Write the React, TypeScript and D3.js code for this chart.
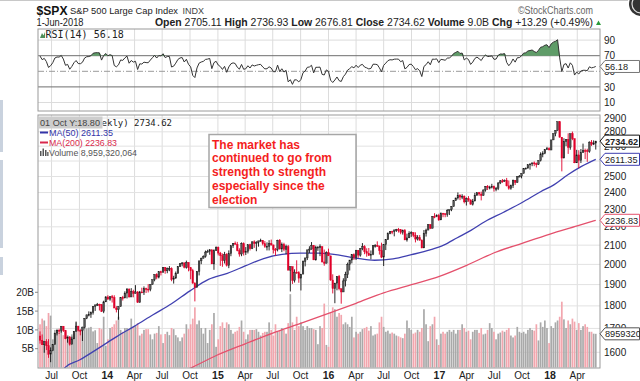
import React from "react";
import * as d3 from "d3";

// ---------- DATA ----------
const startDate = "2013-05-24"; // first weekly bar (week ending)
const warmupCloses = [1440.67,1460.93,1428.59,1433.19,1411.94,1414.20,1379.85,1359.88,1409.15,1416.18,1418.07,1413.58,1430.15,1402.43,1466.47,1472.05,1485.98,1502.96,1513.17,1517.93,1519.79,1515.60,1518.20,1551.18,1560.70,1556.89,1569.19,1553.28,1588.85,1555.25,1582.24,1614.42,1633.70,1667.47];

const closes = [
1649.60,1630.74,1643.38,1626.73,1592.43,1606.28,1631.89,1680.19,1692.09,1691.65,1709.67,1691.42,1655.83,1663.50,1632.97,1655.17,1687.99,1709.91,1691.75,1690.50,1703.20,1744.50,1759.77,1761.64,1770.61,1798.18,1804.76,1805.81,1805.09,1775.32,1818.32,1841.40,
1831.37,1842.37,1838.70,1790.29,1782.59,1797.02,1838.63,1836.25,1859.45,1878.04,1841.13,1866.52,1857.62,1865.09,1815.69,1864.85,1863.40,1881.14,1878.48,1877.86,1900.53,1923.57,1949.44,1936.16,1962.87,1960.96,1985.44,1967.57,1978.22,1978.34,1925.15,1931.59,1955.06,1988.40,2003.37,2007.71,1985.54,2010.40,1982.85,1967.90,1906.13,1886.76,1964.58,2018.05,2031.92,2039.82,2063.50,2067.56,2075.37,2002.33,2070.65,2088.77,
2058.20,2044.81,2019.42,2051.82,1994.99,2055.47,2096.99,2110.30,2104.50,2071.26,2053.40,2108.10,2061.02,2066.96,2102.06,2081.18,2117.69,2108.29,2116.10,2122.73,2126.06,2107.39,2092.83,2094.11,2109.99,2101.49,2076.78,2076.62,2126.64,2079.65,2103.84,2077.57,2091.54,1970.89,1988.87,1921.22,1961.05,1958.03,1931.34,1951.36,2014.89,2033.11,2075.15,2079.36,2099.20,2023.04,2089.17,2090.11,2091.69,2012.37,2005.55,2060.99,2043.94,
1922.03,1880.33,1906.90,1940.24,1880.05,1864.78,1917.78,1948.05,1999.99,2022.19,2049.58,2035.94,2072.78,2047.60,2080.73,2091.58,2065.30,2057.14,2046.61,2052.32,2099.06,2099.13,2096.07,2071.22,2037.41,2102.95,2129.90,2161.74,2175.03,2173.60,2182.87,2184.05,2183.87,2169.04,2179.98,2127.81,2139.16,2164.69,2168.27,2153.74,2132.98,2141.16,2126.41,2085.18,2164.45,2181.90,2213.35,2191.95,2259.53,2258.07,2263.79,2238.83,
2276.98,2274.64,2271.31,2294.69,2297.42,2316.10,2351.16,2367.34,2383.12,2372.60,2378.25,2343.98,2362.72,2355.54,2328.95,2348.69,2384.20,2399.29,2390.90,2381.73,2415.82,2439.07,2431.77,2433.15,2438.30,2423.41,2425.18,2459.27,2472.54,2472.10,2476.83,2441.32,2425.55,2443.05,2476.55,2461.43,2500.23,2502.22,2519.36,2549.33,2553.17,2575.21,2581.07,2587.84,2582.30,2578.85,2602.42,2642.22,2651.50,2675.81,2683.34,2673.61,
2743.15,2786.24,2810.30,2872.87,2762.13,2619.55,2732.22,2747.30,2691.25,2786.57,2752.01,2588.26,2640.87,2604.47,2656.30,2670.14,2669.91,2663.42,2727.72,2712.97,2721.33,2734.62];

const highs = [
1687.2,1674.2,1644.4,1654.2,1654.2,1620.1,1632.1,1680.2,1693.1,1698.8,1709.7,1709.2,1693.4,1664.8,1666.7,1664.8,1689.0,1729.9,1711.0,1696.6,1703.4,1745.3,1759.8,1775.2,1774.5,1798.2,1804.8,1813.6,1810.0,1808.4,1823.8,1844.9,
1849.4,1843.2,1850.8,1849.3,1798.8,1798.0,1838.6,1846.5,1867.9,1883.6,1882.4,1883.0,1875.2,1897.3,1868.4,1869.6,1884.9,1891.3,1885.0,1902.2,1901.3,1924.0,1949.4,1955.6,1963.9,1968.2,1985.6,1985.6,1983.9,1991.4,1984.9,1942.9,1964.0,1991.0,2005.0,2011.2,2009.1,2019.3,2009.1,1985.2,1977.4,1912.0,1965.3,2018.2,2034.3,2046.2,2071.5,2075.8,2079.5,2077.3,2077.9,2093.6,
2093.0,2064.4,2056.1,2064.6,2057.6,2072.4,2097.0,2110.6,2119.6,2117.5,2083.5,2114.9,2114.9,2089.8,2102.6,2107.6,2120.9,2125.9,2120.9,2123.9,2134.7,2126.2,2121.9,2115.0,2126.7,2130.0,2102.0,2085.0,2129.0,2132.8,2114.2,2112.7,2102.7,2101.1,1989.0,1987.0,1975.0,2020.9,1965.9,1951.4,2020.1,2033.5,2075.3,2094.3,2116.5,2100.0,2097.1,2094.1,2104.3,2093.8,2076.7,2067.4,2081.6,
2038.2,1950.3,1908.9,1940.2,1947.2,1881.0,1930.7,1962.9,2009.1,2022.4,2052.4,2056.6,2075.1,2074.0,2083.9,2111.1,2099.9,2083.4,2084.9,2071.9,2099.1,2105.3,2120.6,2096.1,2113.3,2104.0,2131.7,2169.1,2175.6,2178.3,2183.5,2188.5,2193.8,2187.9,2184.9,2187.9,2162.3,2175.3,2175.3,2169.6,2169.6,2153.8,2154.8,2131.5,2182.3,2189.9,2213.4,2214.1,2259.8,2277.5,2271.0,2273.8,
2282.1,2279.3,2272.1,2300.9,2298.3,2319.2,2351.3,2368.3,2400.9,2390.0,2390.0,2382.4,2370.4,2378.4,2358.2,2361.4,2398.2,2399.3,2403.9,2405.8,2418.7,2440.2,2446.2,2441.8,2453.8,2442.9,2434.4,2463.5,2477.6,2484.0,2480.4,2490.9,2474.9,2448.9,2480.4,2477.1,2500.2,2508.9,2519.4,2552.5,2557.6,2575.4,2582.2,2588.4,2597.0,2590.1,2604.2,2657.7,2665.2,2679.6,2694.9,2692.1,
2743.5,2787.9,2810.3,2872.9,2870.6,2763.4,2754.4,2747.8,2789.2,2786.6,2801.9,2752.0,2674.8,2672.1,2680.3,2717.5,2682.9,2682.3,2732.9,2742.1,2739.8,2736.9];

const lows = [
1635.5,1630.7,1598.2,1609.1,1577.7,1560.3,1604.6,1631.9,1670.0,1676.0,1681.9,1684.9,1654.2,1639.4,1627.5,1633.4,1655.2,1687.1,1687.1,1670.4,1646.5,1700.0,1740.5,1752.7,1746.2,1760.6,1777.2,1800.0,1779.1,1772.3,1767.0,1818.3,
1827.7,1823.7,1815.3,1790.3,1770.5,1737.9,1798.8,1824.6,1836.3,1834.4,1839.1,1841.1,1839.6,1857.6,1814.4,1815.7,1859.7,1850.6,1859.8,1862.4,1868.1,1900.5,1915.9,1925.8,1930.0,1944.7,1958.2,1952.9,1955.6,1965.8,1916.3,1904.8,1928.3,1953.0,1987.0,1990.0,1980.0,1978.6,1965.0,1926.0,1906.1,1820.7,1886.8,1944.7,2001.0,2030.0,2034.5,2062.0,2049.6,2002.3,1972.6,2069.0,
2046.0,1992.4,1988.1,2004.5,1989.2,1980.9,2041.9,2085.4,2103.0,2067.3,2039.7,2042.0,2045.5,2048.4,2056.3,2072.0,2079.1,2085.7,2067.9,2092.0,2119.0,2099.2,2085.7,2072.1,2072.0,2097.0,2056.2,2044.0,2067.0,2077.0,2063.5,2067.9,2052.1,1970.9,1867.0,1903.1,1910.0,1953.0,1908.8,1871.9,1951.4,1990.0,2022.0,2059.0,2076.0,2022.0,2019.4,2070.0,2042.4,2010.0,1993.3,2005.9,2043.6,
1918.5,1857.8,1812.3,1872.7,1872.7,1810.1,1864.8,1891.0,1931.8,1969.3,2005.1,2022.5,2022.5,2033.8,2039.7,2073.0,2052.3,2039.5,2043.1,2025.9,2047.3,2087.0,2091.1,2050.4,2032.1,1991.7,2074.0,2128.0,2159.0,2159.1,2147.6,2172.0,2168.5,2159.1,2157.1,2127.8,2119.1,2139.1,2144.6,2142.6,2114.7,2124.9,2124.9,2083.8,2085.2,2146.3,2181.9,2187.4,2192.0,2248.6,2254.8,2233.6,
2245.1,2254.3,2254.3,2257.0,2267.2,2289.1,2319.2,2354.0,2358.0,2354.3,2360.0,2335.0,2322.3,2344.7,2328.9,2322.3,2348.7,2379.8,2380.0,2352.7,2381.7,2405.7,2415.7,2419.4,2425.4,2405.7,2407.7,2415.0,2452.0,2459.9,2466.5,2437.8,2417.4,2417.3,2428.2,2446.6,2462.0,2496.7,2488.0,2520.4,2547.9,2552.0,2544.0,2566.2,2566.3,2557.5,2575.0,2597.0,2624.8,2645.6,2676.0,2673.6,
2682.4,2742.0,2768.6,2808.1,2759.1,2532.7,2622.5,2699.8,2647.3,2675.8,2741.4,2585.9,2593.1,2553.8,2586.5,2660.2,2612.7,2594.6,2655.2,2701.9,2707.4,2676.8];

const volumesB = [
11.5,13.0,12.5,11.0,14.5,13.8,7.5,10.0,10.3,9.2,9.8,8.6,9.5,8.6,8.2,8.8,9.0,12.0,9.8,10.0,11.0,10.5,10.4,10.6,10.8,9.6,9.9,6.5,10.5,10.2,13.5,5.8,
7.5,10.5,10.8,11.5,12.5,13.5,10.0,9.5,10.5,10.5,10.2,13.0,10.8,11.0,11.8,8.5,9.0,10.0,10.2,10.2,8.8,7.5,9.0,9.2,11.0,8.8,6.5,8.9,9.5,8.6,10.5,10.2,8.6,8.0,7.0,8.0,9.0,11.5,10.2,11.5,13.0,16.0,11.5,12.5,10.5,9.0,10.5,6.5,10.0,11.5,14.5,5.5,
7.5,11.0,12.0,10.5,12.0,11.5,10.0,9.0,9.5,9.8,10.8,12.5,9.5,7.5,8.8,10.0,10.0,10.0,10.2,9.5,8.5,9.2,9.5,9.5,12.0,10.0,8.5,11.5,9.5,10.0,10.5,10.0,9.0,11.8,19.5,12.0,10.0,13.5,11.0,12.0,11.0,10.0,11.0,10.5,10.5,10.2,10.0,6.2,11.0,10.5,17.0,6.0,5.5,
14.5,16.0,15.5,13.5,14.5,14.0,11.5,12.0,11.5,10.8,13.5,8.0,9.5,9.0,9.5,10.2,10.5,10.8,9.8,11.0,8.5,8.8,9.0,12.0,13.5,10.8,9.5,9.8,9.0,9.3,9.0,8.5,8.3,8.0,7.8,9.0,12.5,10.5,10.0,9.0,9.3,10.0,9.5,10.5,15.5,11.5,7.0,11.0,11.5,13.5,7.5,6.0,
9.0,9.5,9.0,9.5,10.0,9.5,10.0,9.0,10.0,10.0,11.5,10.5,9.5,9.8,7.5,9.5,10.0,10.0,9.2,10.5,8.8,9.0,10.0,11.8,10.5,9.5,7.5,9.0,9.3,9.8,9.5,10.0,10.5,8.5,8.0,8.5,10.8,9.5,9.2,9.5,9.0,10.0,10.5,10.0,9.8,11.5,7.2,12.0,10.8,12.5,10.5,6.5,
11.0,10.5,12.0,12.5,13.5,17.5,12.8,10.5,12.5,11.5,13.0,12.2,10.0,11.8,10.0,11.0,11.5,10.8,9.5,9.5,9.0,8.96];

const ma50Dates = ["2013-08-01","2013-08-16","2013-10-01","2013-12-01","2014-02-01","2014-04-01","2014-06-01","2014-08-01","2014-10-01","2014-12-01","2015-02-01","2015-04-01","2015-06-01","2015-08-01","2015-10-01","2015-12-01","2016-02-01","2016-04-01","2016-06-01","2016-08-01","2016-10-01","2016-12-01","2017-01-15","2017-03-01","2017-04-15","2017-06-01","2017-08-01","2017-10-01","2017-12-01","2018-01-15","2018-03-01","2018-04-15","2018-06-01"];
const ma50Values = [1520,1541,1569,1615,1665,1710,1760,1810,1870,1925,1955,1992,2030,2052,2058,2058,2049,2032,2021,2028,2050,2075,2100,2140,2180,2230,2283,2340,2405,2449,2511,2565,2611.35];
const ma200Dates = ["2014-09-01","2014-10-10","2015-01-01","2015-04-01","2015-07-01","2015-10-01","2016-01-01","2016-04-01","2016-07-01","2016-10-01","2017-01-01","2017-04-01","2017-07-01","2017-10-01","2018-01-01","2018-04-01","2018-06-01"];
const ma200Values = [1520,1541,1590,1635,1680,1722,1766,1812,1861,1900,1940,1995,2060,2110,2160,2205,2236.83];

const xTickDates = ["2013-07-01","2013-10-01","2014-01-01","2014-04-01","2014-07-01","2014-10-01","2015-01-01","2015-04-01","2015-07-01","2015-10-01","2016-01-01","2016-04-01","2016-07-01","2016-10-01","2017-01-01","2017-04-01","2017-07-01","2017-10-01","2018-01-01","2018-04-01"];
const xTickLabels = ["Jul","Oct","14","Apr","Jul","Oct","15","Apr","Jul","Oct","16","Apr","Jul","Oct","17","Apr","Jul","Oct","18","Apr"];
const priceTicks = [1600,1700,1800,1900,2000,2100,2200,2300,2400,2500,2600,2700,2800,2900];
const volTicks = [5,10,15,20];
const volTickLabels = ["5B","10B","15B","20B"];
const rsiTicks = [10,30,50,70,90];
const annotationLines = ["The market has","continued to go from","strength to strength","especially since the","election"];

const lastClose = 2734.62, lastMa50 = 2611.35, lastMa200 = 2236.83, lastRsi = 56.18, lastVolume = 8.959320064;

// ---------- LAYOUT ----------
const W = 640, H = 381;
const L = 38, R = 600;
const rsiTop = 29, rsiBot = 111;
const pTop = 115, pBot = 368;
const SANS = "'Liberation Sans', Arial, sans-serif";
const MONO = "'DejaVu Sans Mono', monospace";

const parse = d3.utcParse("%Y-%m-%d");

function wilderRsi(all: number[], period = 14) {
  const out: number[] = new Array(all.length).fill(NaN);
  let g = 0, l = 0;
  for (let i = 1; i <= period; i++) { const d = all[i] - all[i - 1]; if (d > 0) g += d; else l -= d; }
  g /= period; l /= period;
  out[period] = 100 - 100 / (1 + g / l);
  for (let i = period + 1; i < all.length; i++) {
    const d = all[i] - all[i - 1];
    g = (g * (period - 1) + Math.max(d, 0)) / period;
    l = (l * (period - 1) + Math.max(-d, 0)) / period;
    out[i] = 100 - 100 / (1 + g / l);
  }
  return out;
}

function ValueBox({ y, text, stroke, bold }: { y: number; text: string; stroke: string; bold?: boolean }) {
  const h = 6;
  return (
    <g>
      <path d={`M${R},${y} L${R + 5},${y - h} L${W - 0.5},${y - h} L${W - 0.5},${y + h} L${R + 5},${y + h} Z`} fill="#fff" stroke={stroke} strokeWidth={1} />
      <text x={R + 5} y={y + 3.4} fontFamily={SANS} fontSize={9.2} fontWeight={bold ? "bold" : "normal"} fill="#222">{text}</text>
    </g>
  );
}

export default function App() {
  const n = Math.min(closes.length, highs.length, lows.length, volumesB.length);
  const start = parse(startDate)!;
  const dates = d3.range(n).map((i) => d3.utcDay.offset(start, 7 * i));
  const x = d3.scaleUtc().domain([parse("2014-01-01")!, parse("2018-01-01")!]).range([107.3, 550]);
  const yP = d3.scaleLog().domain([1600, 2900]).range([352.3, 118.0]);
  const yV = d3.scaleLinear().domain([0, 20]).range([367.5, 292.3]);
  const yR = d3.scaleLinear().domain([10, 90]).range([102.5, 40.1]);

  const rsiAll = wilderRsi(warmupCloses.concat(closes.slice(0, n)));
  const rsi = rsiAll.slice(warmupCloses.length);

  const rsiLine = d3.line<number>().x((_, i) => x(dates[i])).y((v) => yR(v));
  const rsiArea = d3.area<number>().x((_, i) => x(dates[i])).y0(yR(70)).y1((v) => yR(Math.max(v, 70)));

  const maLine = d3.line<[Date, number]>().x((d) => x(d[0])).y((d) => yP(d[1])).curve(d3.curveMonotoneX);
  const ma50 = ma50Dates.map((d, i) => [parse(d)!, ma50Values[i]] as [Date, number]);
  const ma200 = ma200Dates.map((d, i) => [parse(d)!, ma200Values[i]] as [Date, number]);

  const bw = 1.6;

  return (
    <svg width={W} height={H} style={{ position: "absolute", left: 0, top: 0, background: "#fff" }}>
      <defs>
        <clipPath id="pclip"><rect x={L} y={pTop} width={R - L} height={pBot - pTop} /></clipPath>
        <clipPath id="rclip"><rect x={L} y={rsiTop} width={R - L} height={rsiBot - rsiTop} /></clipPath>
        <clipPath id="legclip"><rect x={L + 64.5} y={pTop} width={120} height={14} /></clipPath>
      </defs>
      <rect x={0} y={0} width={W} height={H} fill="#fff" />
      {/* frame artifacts */}
      <line x1={0} x2={628} y1={0.5} y2={0.5} stroke="#c8c8c8" />
      <rect x={0} y={100} width={3} height={52} fill="#c9d2de" />
      <rect x={0} y={160} width={3} height={88} fill="#c9d2de" />
      <rect x={0} y={257} width={3} height={18} fill="#c9d2de" />
      <circle cx={641} cy={4} r={12} fill="#333" />
      <circle cx={641} cy={4} r={9} fill="none" stroke="#ddd" strokeWidth={1.2} />

      {/* header */}
      <text x={36.5} y={15} fontFamily={SANS} fontSize={13.5} fontWeight="bold" fill="#111" textLength={31} lengthAdjust="spacingAndGlyphs">$SPX</text>
      <text x={70} y={14} fontFamily={SANS} fontSize={9.5} fill="#222" textLength={108} lengthAdjust="spacingAndGlyphs">S&amp;P 500 Large Cap Index</text>
      <text x={182.5} y={14} fontFamily={SANS} fontSize={9} fill="#444">INDX</text>
      <text x={518} y={14} fontFamily={SANS} fontSize={10} fill="#666" textLength={75} lengthAdjust="spacingAndGlyphs">©StockCharts.com</text>
      <text x={36.5} y={26} fontFamily={SANS} fontSize={10} fill="#222" textLength={47} lengthAdjust="spacingAndGlyphs">1-Jun-2018</text>
      <text x={155} y={26} fontFamily={SANS} fontSize={10.3} fill="#222" textLength={438} lengthAdjust="spacingAndGlyphs">
        <tspan fontWeight="bold">Open</tspan> 2705.11 <tspan fontWeight="bold">High</tspan> 2736.93 <tspan fontWeight="bold">Low</tspan> 2676.81 <tspan fontWeight="bold">Close</tspan> 2734.62 <tspan fontWeight="bold">Volume</tspan> 9.0B <tspan fontWeight="bold">Chg</tspan> +13.29 (+0.49%)
      </text>
      <path d="M596,25 L598.5,20.5 L601,25 Z" fill="#2a9a3a" />

      {/* RSI panel */}
      <rect x={L} y={rsiTop} width={R - L} height={rsiBot - rsiTop} fill="#fff" />
      {xTickDates.map((d, i) => (
        <line key={"rv" + i} x1={x(parse(d)!)} x2={x(parse(d)!)} y1={rsiTop} y2={rsiBot} stroke="#dcdcdc" />
      ))}
      {[10, 90].map((v) => <line key={"rg" + v} x1={L} x2={R} y1={yR(v)} y2={yR(v)} stroke="#dcdcdc" />)}
      <line x1={L} x2={R} y1={yR(70)} y2={yR(70)} stroke="#6e6e6e" />
      <line x1={L} x2={R} y1={yR(30)} y2={yR(30)} stroke="#6e6e6e" />
      <line x1={L} x2={R} y1={yR(50)} y2={yR(50)} stroke="#9a9a9a" strokeDasharray="6,2,1,2" />
      <g clipPath="url(#rclip)">
        <path d={rsiArea(rsi) || ""} fill="#5f9c68" />
        <path d={rsiLine(rsi) || ""} fill="none" stroke="#333" strokeWidth={1} />
      </g>
      <rect x={L} y={rsiTop} width={R - L} height={rsiBot - rsiTop} fill="none" stroke="#9a9a9a" />
      <path d="M40,38 L42,33 L43.5,35.5 L45,32 L45,38 Z" fill="#4f8f5a" />
      <text x={45.5} y={38} fontFamily={MONO} fontSize={10} fill="#222">RSI(14) {lastRsi.toFixed(2)}</text>
      {rsiTicks.map((v) => (
        <text key={"rt" + v} x={604} y={yR(v) + 3.6} fontFamily={SANS} fontSize={10} fill="#222">{v}</text>
      ))}
      <ValueBox y={yR(lastRsi)} text={lastRsi.toFixed(2)} stroke="#777" />

      {/* Price panel */}
      {xTickDates.map((d, i) => (
        <line key={"pv" + i} x1={x(parse(d)!)} x2={x(parse(d)!)} y1={pTop} y2={pBot} stroke="#dcdcdc" />
      ))}
      {priceTicks.map((v) => <line key={"ph" + v} x1={L} x2={R} y1={yP(v)} y2={yP(v)} stroke="#e2e2e2" />)}
      <g clipPath="url(#pclip)">
        {dates.map((d, i) => {
          const prev = i === 0 ? warmupCloses[warmupCloses.length - 1] : closes[i - 1];
          const up = closes[i] >= prev;
          const y0 = yV(volumesB[i]);
          return <rect key={"v" + i} x={x(d) - 0.85} y={y0} width={1.7} height={yV(0) - y0} fill={up ? "#a9a9a9" : "#f2a6ae"} />;
        })}
        <path d={maLine(ma200) || ""} fill="none" stroke="#e4506c" strokeWidth={1.3} />
        <path d={maLine(ma50) || ""} fill="none" stroke="#4040b0" strokeWidth={1.3} />
        {dates.map((d, i) => {
          const open = i === 0 ? warmupCloses[warmupCloses.length - 1] : closes[i - 1];
          const c = closes[i];
          const up = c >= open;
          const col = up ? "#111" : "#e0002a";
          const top = yP(Math.max(open, c));
          const bot = yP(Math.min(open, c));
          const hi = yP(Math.max(highs[i], open, c));
          const lo = yP(Math.min(lows[i], open, c));
          const cx = x(d);
          return (
            <g key={"c" + i}>
              <line x1={cx} x2={cx} y1={hi} y2={lo} stroke={col} strokeWidth={0.9} />
              <rect x={cx - bw / 2} y={top} width={bw} height={Math.max(1, bot - top)} fill={up ? "#555" : col} stroke={col} strokeWidth={0.4} />
            </g>
          );
        })}
      </g>
      <rect x={L} y={pTop} width={R - L} height={pBot - pTop} fill="none" stroke="#9a9a9a" />

      {/* legend (title partly hidden behind the hover tooltip, as in the source) */}
      <g clipPath="url(#legclip)">
        <text x={172} y={126} textAnchor="end" fontFamily={MONO} fontSize={9} fill="#222">$SPX (Weekly) {lastClose.toFixed(2)}</text>
      </g>
      <rect x={L + 0.5} y={116.5} width={64} height={12} fill="#cdcdcd" />
      <text x={40} y={125.8} fontFamily={SANS} fontSize={9} fill="#444" textLength={60} lengthAdjust="spacingAndGlyphs">01 Oct Y:18.80</text>
      <line x1={40} x2={48} y1={132.5} y2={132.5} stroke="#3434a8" strokeWidth={2} />
      <text x={49} y={135.8} fontFamily={SANS} fontSize={9.5} fill="#3434a8" textLength={64} lengthAdjust="spacingAndGlyphs">MA(50) {lastMa50.toFixed(2)}</text>
      <line x1={40} x2={48} y1={142.5} y2={142.5} stroke="#d8284c" strokeWidth={2} />
      <text x={49} y={145.8} fontFamily={SANS} fontSize={9.5} fill="#d8284c" textLength={68} lengthAdjust="spacingAndGlyphs">MA(200) {lastMa200.toFixed(2)}</text>
      <path d="M40,156 V151 H41.5 V156 M42.5,156 V148.5 H44 V156 M45,156 V150 H46.5 V156 M47.2,156 V152 H48.5 V156 Z" fill="#555" />
      <text x={49} y={155.8} fontFamily={SANS} fontSize={9.5} fill="#555" textLength={88} lengthAdjust="spacingAndGlyphs">Volume 8,959,320,064</text>

      {/* annotation */}
      <rect x={210} y={135.5} width={147} height={73} fill="#bbb" opacity={0.5} />
      <rect x={209} y={134.5} width={147} height={73} fill="#fff" stroke="#a6a6a6" strokeWidth={1.5} />
      {annotationLines.map((t, i) => (
        <text key={"an" + i} x={212} y={148.6 + i * 13.75} fontFamily={SANS} fontSize={12} fontWeight="bold" fill="#f41e1e">{t}</text>
      ))}

      {/* right price axis */}
      {priceTicks.map((v) => (
        <text key={"pt" + v} x={604} y={yP(v) + 3.6} fontFamily={SANS} fontSize={10} fill="#222">{v}</text>
      ))}
      <ValueBox y={yV(lastVolume)} text={"8959320"} stroke="#555" />
      <ValueBox y={yP(lastMa200)} text={lastMa200.toFixed(2)} stroke="#e4506c" />
      <ValueBox y={yP(lastMa50)} text={lastMa50.toFixed(2)} stroke="#3c3cb0" />
      <ValueBox y={yP(lastClose)} text={lastClose.toFixed(2)} stroke="#111" bold />

      {/* left volume axis */}
      {volTicks.map((v, i) => (
        <g key={"vt" + v}>
          <line x1={35} x2={L} y1={yV(v)} y2={yV(v)} stroke="#888" />
          <text x={34} y={yV(v) + 3.6} textAnchor="end" fontFamily={SANS} fontSize={10} fill="#222">{volTickLabels[i]}</text>
        </g>
      ))}

      {/* bottom axis */}
      {xTickDates.map((d, i) => {
        const yr = /^\d+$/.test(xTickLabels[i]);
        return (
          <text key={"xt" + i} x={x(parse(d)!)} y={379} textAnchor="middle" fontFamily={SANS} fontSize={yr ? 10.5 : 10} fontWeight={yr ? "bold" : "normal"} fill="#222">{xTickLabels[i]}</text>
        );
      })}
    </svg>
  );
}
